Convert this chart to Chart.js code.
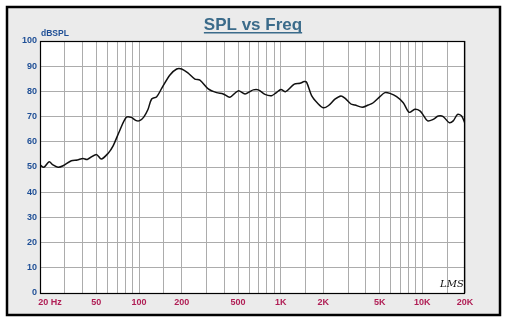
<!DOCTYPE html>
<html>
<head>
<meta charset="utf-8">
<script src="https://cdn.jsdelivr.net/npm/chart.js@4/dist/chart.umd.min.js"></script>
<style>
  html, body { margin: 0; padding: 0; background: #fff; }
  #wrap { width: 506px; height: 323px; }
</style>
</head>
<body>
<div id="wrap"><canvas id="spl" width="506" height="323"></canvas></div>
<script>
// Response curve, frequency in Hz and level in dB SPL
const freqs = [
    20, 21.3, 23.2, 24.7, 26.8, 29.1, 33.3, 36.7, 40.2, 43.1, 49.9, 54.2, 60.4, 65.5, 73, 81.3,
    88.1, 95.6, 101, 108, 115.6, 122.8, 133.3, 144.5, 165.3, 184.4, 200, 222.8, 248, 269, 308,
    353, 393, 438, 501, 560, 607, 640, 695, 775, 863, 936, 1004, 1084, 1248, 1369, 1467, 1525,
    1653, 1823, 1996, 2167, 2415, 2663, 2840, 3133, 3342, 3767, 4154, 4500, 5015, 5443, 5902,
    6581, 7330, 8081, 8858, 9610, 10140, 10890, 11930, 12950, 14040, 15470, 16510, 17730, 18930, 20000
];
const spl = [
    50.8, 49.9, 52.1, 50.8, 49.9, 50.5, 52.5, 52.8, 53.4, 53.0, 55.0, 53.2, 55.4, 58.3, 64.4, 69.7,
    69.7, 68.4, 68.4, 69.8, 72.8, 77.0, 77.9, 81.2, 86.5, 88.9, 88.9, 87.2, 84.9, 84.5, 81.0,
    79.5, 79.0, 77.7, 80.2, 79.0, 79.9, 80.6, 80.6, 78.8, 78.3, 79.6, 80.8, 79.9, 82.9, 83.2, 83.9, 83.6,
    78.3, 75.3, 73.5, 74.3, 76.9, 78.2, 77.3, 75.0, 74.6, 73.7, 74.6, 75.5, 77.9, 79.5, 79.2,
    77.9, 75.5, 71.7, 72.9, 72.3, 70.6, 68.3, 68.9, 70.2, 70.0, 67.6, 68.3, 70.9, 70.2, 67.3
];
const freqLabels = { 20: '20 Hz', 50: '50', 100: '100', 200: '200', 500: '500',
    1000: '1K', 2000: '2K', 5000: '5K', 10000: '10K', 20000: '20K' };

const chartTitle = 'SPL vs Freq';
const yUnit = 'dBSPL';
const badge = 'LMS';

// Panel frame, white plot area and the header texts
const framePlugin = {
    id: 'frame',
    beforeDraw(chart) {
        const ctx = chart.ctx;
        const a = chart.chartArea;
        ctx.save();
        ctx.fillStyle = '#ffffff';
        ctx.fillRect(0, 0, chart.width, chart.height);
        ctx.fillStyle = '#ebebeb';
        ctx.fillRect(7, 7, 493, 308);
        ctx.strokeStyle = '#000';
        ctx.lineWidth = 2.5;
        ctx.strokeRect(7, 7, 493, 308);
        ctx.fillStyle = '#ffffff';
        ctx.fillRect(a.left, a.top, a.right - a.left, a.bottom - a.top);
        ctx.restore();
    },
    afterDraw(chart) {
        const ctx = chart.ctx;
        const a = chart.chartArea;
        ctx.save();
        ctx.strokeStyle = '#000';
        ctx.lineWidth = 1.2;
        ctx.strokeRect(a.left + 0.5, a.top + 0.5, a.right - a.left - 1, a.bottom - a.top);

        // title, underlined
        ctx.font = 'bold 17px "Liberation Sans", Arial, sans-serif';
        ctx.fillStyle = '#3b6b8a';
        ctx.textAlign = 'center';
        ctx.textBaseline = 'alphabetic';
        ctx.fillText(chartTitle, 253, 30);
        const w = ctx.measureText(chartTitle).width;
        ctx.fillRect(253 - w / 2, 32, w, 1.5);

        ctx.font = 'bold 8.5px "Liberation Sans", Arial, sans-serif';
        ctx.fillStyle = '#1f4f96';
        ctx.textAlign = 'left';
        ctx.fillText(yUnit, 41, 36);

        ctx.font = 'italic 10px "DejaVu Serif", serif';
        ctx.fillStyle = '#111';
        ctx.fillText(badge, 440, 287);
        ctx.restore();
    }
};

const ctx = document.getElementById('spl');
new Chart(ctx, {
    type: 'line',
    data: {
        datasets: [{
            data: freqs.map((f, i) => ({ x: f, y: spl[i] })),
            borderColor: '#111',
            borderWidth: 1.5,
            pointRadius: 0,
            tension: 0.3,
            fill: false
        }]
    },
    options: {
        responsive: false,
        animation: false,
        layout: { padding: { top: 41, right: 41, left: 0, bottom: 0 } },
        plugins: {
            legend: { display: false },
            tooltip: { enabled: false },
            title: { display: false }
        },
        scales: {
            x: {
                type: 'logarithmic',
                min: 20,
                max: 20000,
                afterFit: s => { s.height = 30; },
                border: { display: false },
                grid: { color: '#acacac', lineWidth: 1, drawTicks: false },
                ticks: {
                    autoSkip: false,
                    maxRotation: 0,
                    padding: 4,
                    color: '#b01e55',
                    font: { family: '"Liberation Sans", Arial, sans-serif', size: 9, weight: 'bold' },
                    callback: v => {
                        const lbl = freqLabels[Math.round(v)];
                        if (!lbl) return '';
                        return Math.round(v) === 20 ? '\u00a0\u00a0\u00a0\u00a0\u00a0\u00a0\u00a0\u00a0' + lbl : lbl;
                    }
                }
            },
            y: {
                min: 0,
                max: 100,
                afterFit: s => { s.width = 40; },
                border: { display: false },
                grid: { color: '#acacac', lineWidth: 1, drawTicks: false },
                ticks: {
                    stepSize: 10,
                    padding: 3,
                    color: '#1f4f96',
                    font: { family: '"Liberation Sans", Arial, sans-serif', size: 9, weight: 'bold' }
                }
            }
        }
    },
    plugins: [framePlugin]
});
</script>
</body>
</html>
